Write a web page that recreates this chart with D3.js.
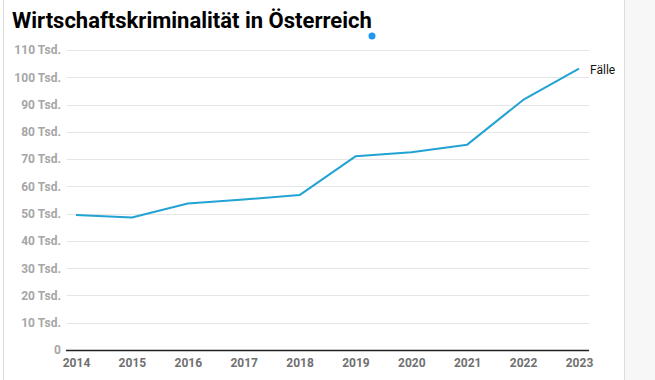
<!DOCTYPE html>
<html><head><meta charset="utf-8">
<script src="https://cdn.jsdelivr.net/npm/d3@7"></script>
<style>html,body{margin:0;padding:0;background:#fff;}svg{display:block;font-family:Roboto,sans-serif;}</style>
</head><body>
<script>
const years = ["2014","2015","2016","2017","2018","2019","2020","2021","2022","2023"];
const faelle = [49.5, 48.6, 53.7, 55.2, 56.8, 71.0, 72.5, 75.3, 91.7, 103.2];
const yTicks = [0,10,20,30,40,50,60,70,80,90,100,110];
const seriesName = "Fälle";
const title = "Wirtschaftskriminalität in Österreich";

const W = 655, H = 380;
const svg = d3.select("body").append("svg").attr("width", W).attr("height", H);

svg.append("rect").attr("x",624).attr("y",0).attr("width",31).attr("height",H).attr("fill","#f7f7f7");
svg.append("line").attr("x1",624.5).attr("x2",624.5).attr("y1",0).attr("y2",H).attr("stroke","#dcdcdc");
svg.append("line").attr("x1",3.5).attr("x2",3.5).attr("y1",0).attr("y2",H).attr("stroke","#dcdcdc");

svg.append("text").attr("x",12).attr("y",28).text(title)
  .attr("font-size",22).attr("font-weight",700).attr("fill","#000");
svg.append("circle").attr("cx",372).attr("cy",36).attr("r",3.5).attr("fill","#2196f3");

const x = d3.scalePoint().domain(years).range([76,579]);
const y = d3.scaleLinear().domain([0,110]).range([350,50]);

const grid = svg.append("g");
grid.selectAll("line").data(yTicks.filter(d=>d>0)).join("line")
  .attr("x1",67).attr("x2",589)
  .attr("y1",d=>Math.round(y(d))+0.5).attr("y2",d=>Math.round(y(d))+0.5)
  .attr("stroke","#e6e6e6");

const yAxis = svg.append("g").attr("transform","translate(61,0)")
  .call(d3.axisLeft(y).tickValues(yTicks).tickSize(0).tickPadding(0)
    .tickFormat(d => d===0 ? "0" : d + " Tsd."));
yAxis.select(".domain").remove();
yAxis.selectAll("text").attr("font-size",12).attr("font-weight",700).attr("fill","#a6a6a6")
  .attr("font-family","Roboto,sans-serif");

const xAxis = svg.append("g").attr("transform","translate(0,350)")
  .call(d3.axisBottom(x).tickSize(0).tickPadding(8));
xAxis.select(".domain").remove();
xAxis.selectAll("text").attr("font-size",12).attr("font-weight",700).attr("fill","#707070")
  .attr("font-family","Roboto,sans-serif");
svg.append("line").attr("x1",66).attr("x2",589).attr("y1",350.5).attr("y2",350.5)
  .attr("stroke","#222").attr("stroke-width",1.5);

const line = d3.line().x((d,i)=>x(years[i])).y(d=>y(d));
svg.append("path").datum(faelle).attr("d",line).attr("fill","none")
  .attr("stroke","#22a3d3").attr("stroke-width",2).attr("stroke-linejoin","round");

svg.append("text").attr("x",590).attr("y",y(faelle[faelle.length-1])+5).text(seriesName)
  .attr("font-size",12).attr("fill","#111");
</script>
</body></html>
